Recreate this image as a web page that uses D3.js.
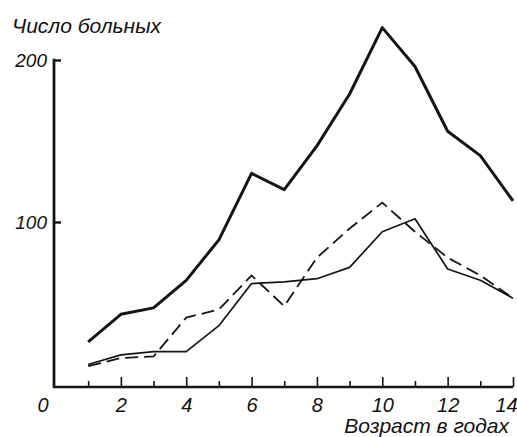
<!DOCTYPE html>
<html><head><meta charset="utf-8">
<script src="https://cdn.jsdelivr.net/npm/d3@7"></script>
<style>
html,body{margin:0;padding:0;background:#fff;}
text{font-family:"Liberation Sans",Arial,sans-serif;font-style:italic;fill:#111;}
</style></head>
<body>
<svg id="c" width="517" height="437"></svg>
<script>
const ages = [1,2,3,4,5,6,7,8,9,10,11,12,13,14];
const totalPatients = [26,43,47,64,89,130,120,147,179,220,196,156,141,113];
const seriesThin = [12,18,20,20,36,62,63,65,72,94,102,71,64,53];
const seriesDashed = [11,16,17,41,46,67,48,78,96,112,94,78,67,53];
const xMajorTicks = [0,2,4,6,8,10,12,14];
const xMinorTicks = [1,3,5,7,9,11,13];
const yTicks = [100,200];
const yTitle = "Число больных";
const xTitle = "Возраст в годах";

const svg = d3.select("#c");
const x = d3.scaleLinear().domain([0,14]).range([55.5,513]);
const y = d3.scaleLinear().domain([0,200]).range([384,60]);
const axisY = 387, axisX = 54;

const ink = "#151515";

// x axis
const gx = svg.append("g").attr("transform",`translate(0,${axisY})`);
gx.call(d3.axisBottom(x).tickValues(xMajorTicks).tickSize(-10).tickPadding(11).tickSizeOuter(0));
gx.select(".domain").remove();
gx.selectAll("line").attr("stroke",ink).attr("stroke-width",1.6);
gx.selectAll("text").attr("font-size",20).attr("fill",ink).style("font-family",null)
  .attr("dx", d => d===0 ? -13 : (d===14 ? -7 : 0));
gx.selectAll(".tick").filter(d=>d===0).select("line").remove();
const gxm = svg.append("g").attr("transform",`translate(0,${axisY})`);
gxm.call(d3.axisBottom(x).tickValues(xMinorTicks).tickSize(-6).tickFormat(""));
gxm.select(".domain").remove();
gxm.selectAll("line").attr("stroke",ink).attr("stroke-width",1.6);
svg.append("line").attr("x1",axisX-1).attr("x2",x(14)).attr("y1",axisY).attr("y2",axisY)
  .attr("stroke",ink).attr("stroke-width",2.6);

// y axis
const gy = svg.append("g").attr("transform",`translate(${axisX},0)`);
gy.call(d3.axisLeft(y).tickValues(yTicks).tickSize(-7).tickPadding(7).tickSizeOuter(0));
gy.select(".domain").remove();
gy.selectAll("line").attr("stroke",ink).attr("stroke-width",2.4);
gy.selectAll("text").attr("font-size",19).attr("fill",ink).style("font-family",null);
svg.append("line").attr("x1",axisX).attr("x2",axisX).attr("y1",y(200)-1.2).attr("y2",axisY+1)
  .attr("stroke",ink).attr("stroke-width",2.8);

// titles
svg.append("text").attr("x",12).attr("y",33).attr("font-size",21).text(yTitle);
svg.append("text").attr("x",509).attr("y",433).attr("text-anchor","end").attr("font-size",21).text(xTitle);

// lines
const line = vals => d3.line().x((d,i)=>x(ages[i])).y(d=>y(d))(vals);
svg.append("path").attr("d",line(totalPatients)).attr("fill","none").attr("stroke",ink)
  .attr("stroke-width",3).attr("stroke-linejoin","round");
svg.append("path").attr("d",line(seriesThin)).attr("fill","none").attr("stroke",ink)
  .attr("stroke-width",1.7).attr("stroke-linejoin","round");
svg.append("path").attr("d",line(seriesDashed)).attr("fill","none").attr("stroke",ink)
  .attr("stroke-width",1.8).attr("stroke-dasharray","13,6");
</script>
</body></html>
